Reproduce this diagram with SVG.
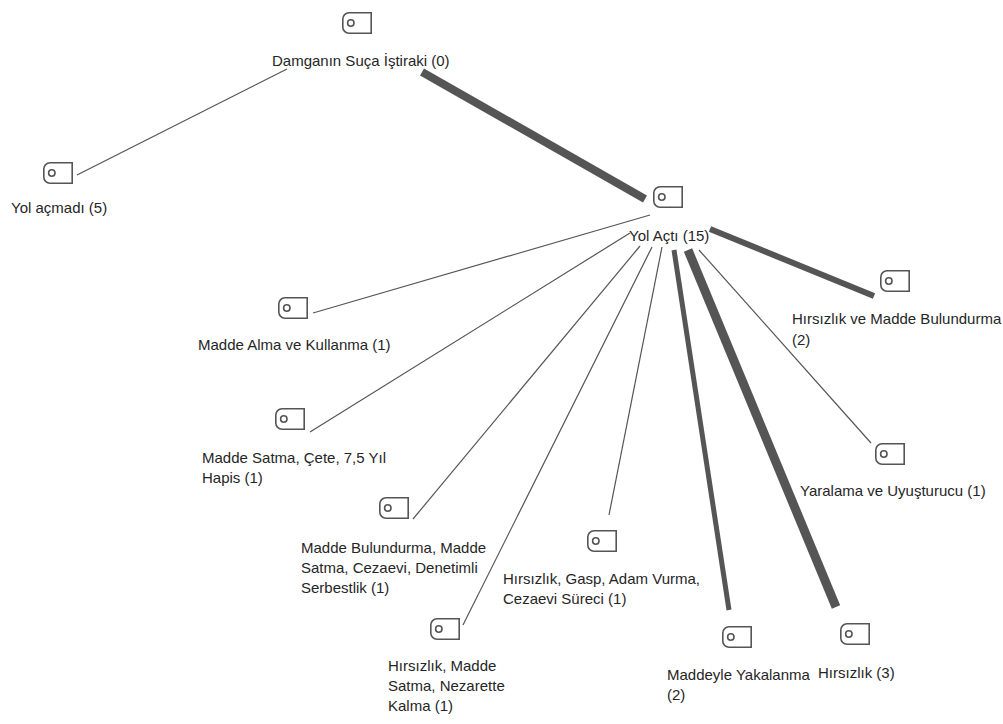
<svg xmlns="http://www.w3.org/2000/svg" width="1003" height="724" viewBox="0 0 1003 724">
<defs>
<style>
.bg{fill:#ffffff}
.lbl{font-family:"Liberation Sans",Arial,sans-serif;font-size:15px;fill:#262626}
.icon{fill:none;stroke:#555555;stroke-width:1.6}
.e{stroke:#555555;fill:none;stroke-linecap:butt}
.thin{stroke-width:1.2}
</style>
<g id="tag">
<path class="icon" d="M7,0.8 H29.2 V21.2 H7 A6.2,6.2 0 0 1 0.8,15 V7 A6.2,6.2 0 0 1 7,0.8 Z"/>
<circle class="icon" cx="8.8" cy="11" r="3.2"/>
</g>
</defs>
<rect class="bg" x="0" y="0" width="1003" height="724"/>
<g id="connectors">
<line class="e thin" x1="287" y1="69" x2="77" y2="175"/>
<line class="e" stroke-width="8" x1="422" y1="72" x2="645" y2="199"/>
<line class="e thin" x1="650" y1="215" x2="313" y2="313"/>
<line class="e thin" x1="630" y1="233" x2="310" y2="432"/>
<line class="e thin" x1="640" y1="246" x2="413" y2="519"/>
<line class="e thin" x1="652" y1="247" x2="463" y2="625"/>
<line class="e thin" x1="662" y1="247" x2="609" y2="515"/>
<line class="e" stroke-width="5" x1="674" y1="250" x2="729" y2="610"/>
<line class="e" stroke-width="9" x1="688" y1="250" x2="836" y2="607"/>
<line class="e thin" x1="699" y1="250" x2="871" y2="443"/>
<line class="e" stroke-width="6" x1="710" y1="229" x2="874" y2="296"/>
</g>
<g id="n-damganin">
<use href="#tag" x="342" y="12"/>
<text class="lbl" x="272" y="66">Damganın Suça İştiraki (0)</text>
</g>
<g id="n-yol-acmadi">
<use href="#tag" x="43" y="162"/>
<text class="lbl" x="11" y="213">Yol açmadı (5)</text>
</g>
<g id="n-yol-acti">
<use href="#tag" x="653" y="186"/>
<text class="lbl" x="629" y="241">Yol Açtı (15)</text>
</g>
<g id="n-hirsizlik-madde-bulundurma">
<use href="#tag" x="880" y="270"/>
<text class="lbl" x="792" y="324">Hırsızlık ve Madde Bulundurma<tspan x="792" dy="21">(2)</tspan></text>
</g>
<g id="n-madde-alma">
<use href="#tag" x="278" y="297"/>
<text class="lbl" x="198" y="350">Madde Alma ve Kullanma (1)</text>
</g>
<g id="n-madde-satma-cete">
<use href="#tag" x="275" y="408"/>
<text class="lbl" x="202" y="463">Madde Satma, Çete, 7,5 Yıl<tspan x="202" dy="20">Hapis (1)</tspan></text>
</g>
<g id="n-yaralama">
<use href="#tag" x="875" y="443"/>
<text class="lbl" x="800" y="496">Yaralama ve Uyuşturucu (1)</text>
</g>
<g id="n-madde-bulundurma">
<use href="#tag" x="379" y="497"/>
<text class="lbl" x="301" y="553">Madde Bulundurma, Madde<tspan x="301" dy="20">Satma, Cezaevi, Denetimli</tspan><tspan x="301" dy="20">Serbestlik (1)</tspan></text>
</g>
<g id="n-gasp">
<use href="#tag" x="587" y="530"/>
<text class="lbl" x="503" y="584">Hırsızlık, Gasp, Adam Vurma,<tspan x="503" dy="20">Cezaevi Süreci (1)</tspan></text>
</g>
<g id="n-hirsizlik-madde-satma">
<use href="#tag" x="430" y="618"/>
<text class="lbl" x="388" y="671">Hırsızlık, Madde<tspan x="388" dy="20">Satma, Nezarette</tspan><tspan x="388" dy="20">Kalma (1)</tspan></text>
</g>
<g id="n-maddeyle">
<use href="#tag" x="722" y="626"/>
<text class="lbl" x="667" y="680">Maddeyle Yakalanma<tspan x="667" dy="20">(2)</tspan></text>
</g>
<g id="n-hirsizlik-3">
<use href="#tag" x="840" y="623"/>
<text class="lbl" x="818" y="678">Hırsızlık (3)</text>
</g>
</svg>
